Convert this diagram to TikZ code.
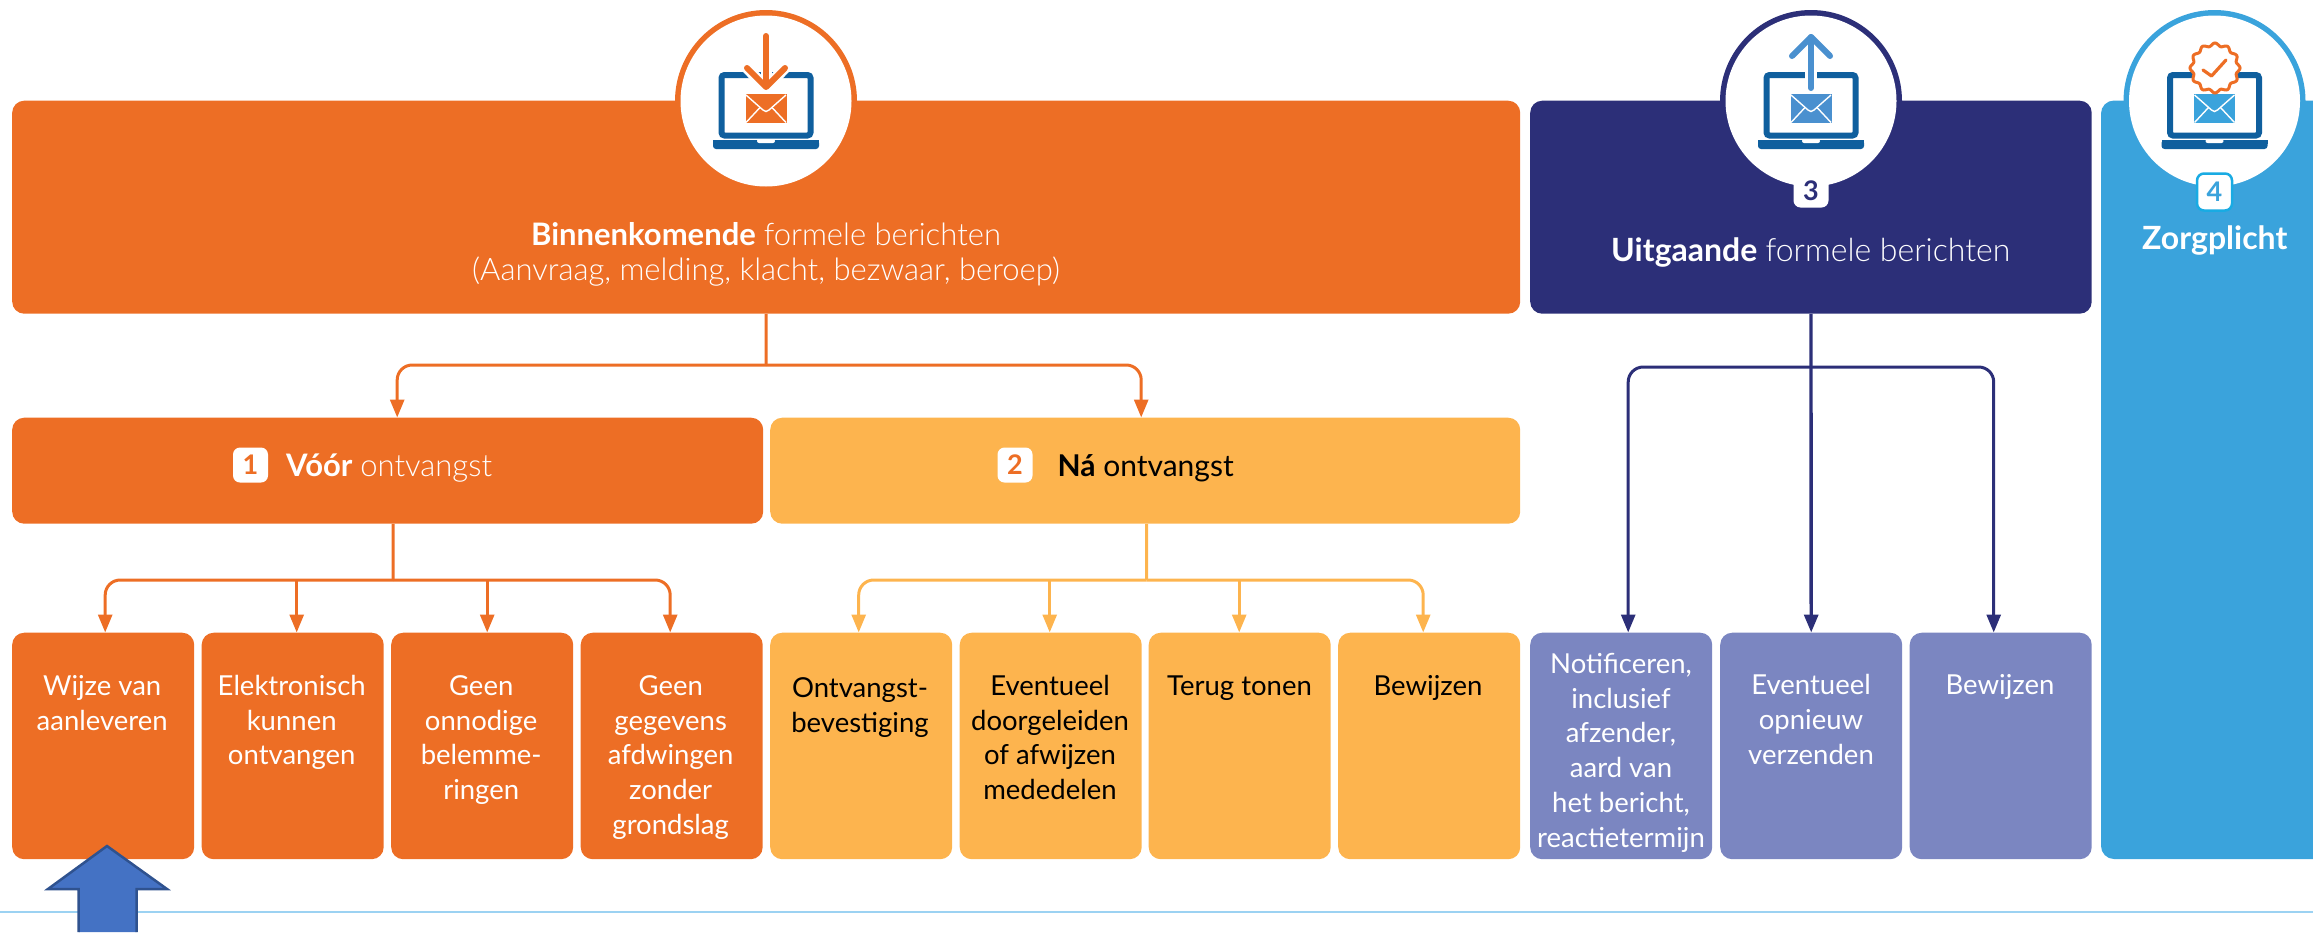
\documentclass[tikz,border=0pt]{standalone}
\usepackage{fontspec}
\setmainfont{Lato}
\newfontfamily\lightfont{Lato Light}
\usetikzlibrary{arrows.meta}
\definecolor{cOrange}{HTML}{ED6E25}
\definecolor{cYellow}{HTML}{FDB44E}
\definecolor{cNavy}{HTML}{2C2F78}
\definecolor{cPeri}{HTML}{7B86C1}
\definecolor{cBlue}{HTML}{3AA3DC}
\definecolor{cLap}{HTML}{0F5F9E}
\definecolor{cArrowUp}{HTML}{4A90CF}
\definecolor{cCyan}{HTML}{19ABE3}
\definecolor{cRule}{HTML}{9CD2F2}
\definecolor{cPpt}{HTML}{4472C4}
\definecolor{cPptEdge}{HTML}{2F528F}
\newcommand{\fl}{\rule{0pt}{24pt}}
\newcommand{\laptop}[2]{%
  \begin{scope}[shift={(#1,0)}]
    \draw[cLap,line width=6pt,rounded corners=3pt] (-44.5,75) rectangle (44.5,135.5);
    \fill[cLap,rounded corners=3pt] (-53,140) -- (53,140) -- (53,149) -- (-53,149) -- cycle;
    \fill[cLap] (-53,140) rectangle (53,144);
    \fill[white,rounded corners=2pt] (-9,139) rectangle (9,143);
    \fill[#2] (-20.5,94) rectangle (20.5,123);
    \draw[white,line width=1.4pt] (-20,95) -- (-3,110) -- (0,111.5) -- (3,110) -- (20,95);
    \draw[white,line width=1.4pt] (-20,122.5) -- (-6,107.5);
    \draw[white,line width=1.4pt] (20,122.5) -- (6,107.5);
  \end{scope}}
\tikzset{
  box/.style={draw=none,anchor=north west,inner sep=0pt,rounded corners=12pt},
  wide/.style={box,minimum height=213pt},
  mid/.style={box,minimum height=106pt},
  small/.style={box,minimum width=182pt,minimum height=226.5pt},
  boxtext/.style={anchor=north,inner sep=0pt,align=center,font=\fontsize{27.5}{34.8}\selectfont},
  toptext/.style={anchor=north,inner sep=0pt,align=center,font=\fontsize{31}{35}\selectfont},
  headtext/.style={anchor=base west,inner sep=0pt,font=\fontsize{31}{34}\selectfont},
  badge/.style={fill=white,rounded corners=7pt,inner sep=0pt,minimum width=35pt,minimum height=35pt,font=\fontsize{27}{27}\selectfont\bfseries},
  flow/.style={line width=3pt,-{Triangle[length=18pt,width=14pt]},rounded corners=15pt},
  trunk/.style={line width=3pt}
}
\begin{document}
\begin{tikzpicture}[x=1pt,y=-1pt]
\useasboundingbox (0,0) rectangle (2313,932);
% rings
\fill[cOrange] (766,101) circle (91pt);
\fill[cNavy] (1811,101) circle (91pt);
\fill[cBlue] (2214.5,101) circle (91pt);
% header boxes
\node[wide,fill=cOrange,minimum width=1508pt] (top) at (12,100.5) {};
\node[wide,fill=cNavy,minimum width=561.5pt] (out) at (1530,100.5) {};
\fill[cBlue,rounded corners=13pt] (2313,100.5) -- (2101,100.5) -- (2101,859) -- (2313,859);
% white discs
\fill[white] (766,101) circle (85.5pt);
\fill[white] (1811,101) circle (85.5pt);
\fill[white] (2214.5,101) circle (85.5pt);
% middle boxes
\node[mid,fill=cOrange,minimum width=751pt] (v1) at (12,417.5) {};
\node[mid,fill=cYellow,minimum width=750pt] (v2) at (770,417.5) {};
% small boxes
\node[small,fill=cOrange] (s11) at (12,632.5) {};
\node[small,fill=cOrange] (s12) at (201.5,632.5) {};
\node[small,fill=cOrange] (s13) at (391,632.5) {};
\node[small,fill=cOrange] (s14) at (580.5,632.5) {};
\node[small,fill=cYellow] (s21) at (770,632.5) {};
\node[small,fill=cYellow] (s22) at (959.5,632.5) {};
\node[small,fill=cYellow] (s23) at (1148.5,632.5) {};
\node[small,fill=cYellow] (s24) at (1338,632.5) {};
\node[small,fill=cPeri] (s31) at (1530,632.5) {};
\node[small,fill=cPeri] (s32) at (1720,632.5) {};
\node[small,fill=cPeri] (s33) at (1909.5,632.5) {};
% connectors
\coordinate (j0) at (766,365);
\coordinate (j1) at (393,580);
\coordinate (j2) at (1146.5,580);
\coordinate (j3) at (1811,367);
\draw[trunk,cOrange] (top.south) -- (j0);
\draw[flow,cOrange] (j0) -| ([xshift=9.5pt]v1.north);
\draw[flow,cOrange] (j0) -| ([xshift=-4pt]v2.north);
\draw[trunk,cOrange] ([xshift=5.5pt]v1.south) -- (j1);
\draw[flow,cOrange] (j1) -| ([xshift=2pt]s11.north);
\draw[flow,cOrange] ([xshift=4pt]s12.north |- j1) -- ([xshift=4pt]s12.north);
\draw[flow,cOrange] ([xshift=5pt]s13.north |- j1) -- ([xshift=5pt]s13.north);
\draw[flow,cOrange] (j1) -| ([xshift=-1.5pt]s14.north);
\draw[trunk,cYellow] ([xshift=1.5pt]v2.south) -- (j2);
\draw[flow,cYellow] (j2) -| ([xshift=-2.5pt]s21.north);
\draw[flow,cYellow] ([xshift=-1pt]s22.north |- j2) -- ([xshift=-1pt]s22.north);
\draw[flow,cYellow] ([xshift=-0.5pt]s23.north |- j2) -- ([xshift=-0.5pt]s23.north);
\draw[flow,cYellow] (j2) -| ([xshift=-6pt]s24.north);
\draw[flow,cNavy] (j3) -| ([xshift=7pt]s31.north);
\draw[flow,cNavy,line width=3.4pt] (out.south) -- (s32.north);
\draw[flow,cNavy] (j3) -| ([xshift=-7pt]s33.north);
% icon 1
\laptop{766}{cOrange}
\draw[white,line width=11pt] (766,60) -- (766,88);
\draw[white,line width=11pt,line cap=round,line join=round] (747,68) -- (766,88) -- (785,68);
\draw[cOrange,line width=6pt,line cap=round,line join=round] (766,36) -- (766,86);
\draw[cOrange,line width=6pt,line cap=round,line join=round] (747,68) -- (766,87) -- (785,68);
% icon 3
\laptop{1811}{cArrowUp}
\draw[white,line width=12pt] (1811,60) -- (1811,88);
\draw[cArrowUp,line width=6pt,line cap=round,line join=round] (1811,37) -- (1811,88);
\draw[cArrowUp,line width=6pt,line cap=round,line join=round] (1792,56) -- (1811,37) -- (1830,56);
% icon 4
\laptop{2214.5}{cBlue}
\draw[cOrange,line width=3pt,fill=white,samples=145,domain=0:360,smooth] plot ({2215+(23.5+1.5*cos(12*\x))*cos(\x)},{68+(23.5+1.5*cos(12*\x))*sin(\x)}) -- cycle;
\draw[cOrange,line width=3.2pt,line cap=round,line join=round] (2203,70) -- (2211.5,76) -- (2226,60);
% texts
\node[toptext,text=white] (toptext) at (766,221) {\fl\textbf{Binnenkomende} {\lightfont formele berichten}\\{\lightfont (Aanvraag, melding, klacht, bezwaar, beroep)}};
\node[headtext,text=white,font=\fontsize{32}{34}\selectfont] (outtext) at (1611,261) {\textbf{Uitgaande} {\lightfont formele berichten}};
\node[headtext,text=white,font=\fontsize{32}{34}\selectfont] (zorg) at (2142,249) {\textbf{Zorgplicht}};
\node[badge,text=cOrange] (b1) at (250.5,465) {1};
\node[headtext,text=white] (v1t) at (286,476) {\textbf{Vóór} {\lightfont ontvangst}};
\node[badge,text=cOrange] (b2) at (1015,465) {2};
\node[headtext,text=black,font=\fontsize{30}{34}\selectfont] (v2t) at (1057.5,476) {\textbf{Ná} ontvangst};
\node[badge,text=cNavy,minimum height=33pt] (b3) at (1811,191) {3};
\node[badge,text=cBlue,draw=cCyan,line width=2.5pt,minimum width=35pt,minimum height=37pt] (b4) at (2214.5,192) {4};
\node[boxtext,text=white] (t11) at ([xshift=-1pt]s11.north |- 0,671) {\fl Wijze van\\aanleveren};
\node[boxtext,text=white] (t12) at ([xshift=-1pt]s12.north |- 0,671) {\fl Elektronisch\\kunnen\\ontvangen};
\node[boxtext,text=white] (t13) at ([xshift=-1pt]s13.north |- 0,671) {\fl Geen\\onnodige\\belemme-\\ringen};
\node[boxtext,text=white] (t14) at ([xshift=-1pt]s14.north |- 0,671) {\fl Geen\\gegevens\\afdwingen\\zonder\\grondslag};
\node[boxtext,text=black] (t21) at (860,673) {\fl Ontvangst-\\bevestiging};
\node[boxtext,text=black] (t22) at (1050,671) {\fl Eventueel\\doorgeleiden\\of afwijzen\\mededelen};
\node[boxtext,text=black] (t23) at (1239.5,671) {\fl Terug tonen};
\node[boxtext,text=black] (t24) at (1428,671) {\fl Bewijzen};
\node[boxtext,text=white] (t31) at (1621,649) {\fl Notificeren,\\inclusief\\afzender,\\aard van\\het bericht,\\reactietermijn};
\node[boxtext,text=white] (t32) at (1811,670.5) {\fl Eventueel\\opnieuw\\verzenden};
\node[boxtext,text=white] (t33) at (2000,670.5) {\fl Bewijzen};
% baseline rule and blue arrow
\draw[cRule,line width=2pt] (0,912) -- (2313,912);
\fill[cPpt] (107,846) -- (167,889) -- (136.5,889) -- (136.5,932) -- (78.5,932) -- (78.5,889) -- (48,889) -- cycle;
\draw[cPptEdge,line width=2.5pt,line join=miter] (78.5,932) -- (78.5,889) -- (48,889) -- (107,846) -- (167,889) -- (136.5,889) -- (136.5,932);
\end{tikzpicture}
\end{document}
